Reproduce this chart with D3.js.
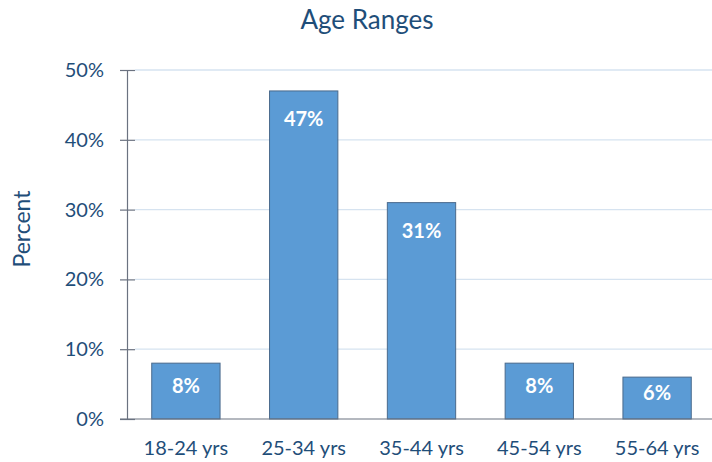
<!DOCTYPE html>
<html><head><meta charset="utf-8">
<script src="https://cdn.jsdelivr.net/npm/d3@7"></script>
<style>body{margin:0;background:#fff}svg{display:block}</style>
</head><body>
<svg id="c" width="712" height="462"></svg>
<script>
const categories = ["18-24 yrs","25-34 yrs","35-44 yrs","45-54 yrs","55-64 yrs"];
const values = [8, 47, 31, 8, 6];
const yTicks = [0, 10, 20, 30, 40, 50];
const title = "Age Ranges";
const yTitle = "Percent";

const W = 712, H = 462;
const m = {left: 127, right: -4, top: 70, bottom: 43};
const svg = d3.select("#c");
const font = "Lato, Carlito, 'Open Sans', sans-serif";
const txt = "#1F4E79";

const x = d3.scaleBand().domain(categories).range([m.left, W - m.right]).paddingInner(0.42).paddingOuter(0.21);
const y = d3.scaleLinear().domain([0, 50]).range([H - m.bottom, m.top]);

// gridlines
svg.append("g").selectAll("line").data(yTicks.filter(d => d > 0)).join("line")
  .attr("x1", m.left + 8).attr("x2", W).attr("y1", d => y(d)).attr("y2", d => y(d))
  .attr("stroke", "#D6E3F0").attr("stroke-width", 1.3);

// bars
svg.append("g").selectAll("rect").data(values).join("rect")
  .attr("x", (d, i) => x(categories[i])).attr("width", x.bandwidth())
  .attr("y", d => y(d)).attr("height", d => y(0) - y(d))
  .attr("fill", "#5B9BD5").attr("stroke", "#4A6A8C").attr("stroke-width", 1);

// y axis
const ya = d3.axisLeft(y).tickValues(yTicks).tickFormat(d => d + "%").tickSize(0).tickPadding(23);
const gy = svg.append("g").attr("transform", `translate(${m.left},0)`).call(ya);
gy.select(".domain").attr("stroke", "#6B7280").attr("stroke-width", 1.2);
gy.selectAll("text").attr("font-family", font).attr("font-size", 20).attr("fill", txt);
gy.selectAll(".tick").append("line").attr("x1", -7).attr("x2", 8).attr("stroke", "#6B7280").attr("stroke-width", 1.2);

// x axis baseline
svg.append("line").attr("x1", m.left - 7).attr("x2", W).attr("y1", y(0)).attr("y2", y(0))
  .attr("stroke", "#6B7280").attr("stroke-width", 1.2);

const xa = d3.axisBottom(x).tickSize(0).tickPadding(22);
const gx = svg.append("g").attr("transform", `translate(0,${y(0)})`).call(xa);
gx.select(".domain").remove();
gx.selectAll("text").attr("font-family", font).attr("font-size", 20).attr("fill", txt);

// value labels
svg.append("g").selectAll("text").data(values).join("text")
  .attr("x", (d, i) => x(categories[i]) + x.bandwidth() / 2)
  .attr("y", d => { const h = y(0) - y(d); return y(d) + Math.min(28, h / 2 - 5); })
  .attr("dy", "0.35em").attr("text-anchor", "middle")
  .attr("font-family", font).attr("font-weight", "bold").attr("font-size", 20).attr("fill", "#fff")
  .text(d => d + "%");

// title
svg.append("text").attr("x", 367).attr("y", 20).attr("dy", "0.35em").attr("text-anchor", "middle")
  .attr("font-family", font).attr("font-size", 26).attr("fill", txt).text(title);

svg.append("text").attr("transform", "translate(22,229) rotate(-90)").attr("dy", "0.35em")
  .attr("text-anchor", "middle").attr("font-family", font).attr("font-size", 23).attr("fill", txt).text(yTitle);
</script>
</body></html>
